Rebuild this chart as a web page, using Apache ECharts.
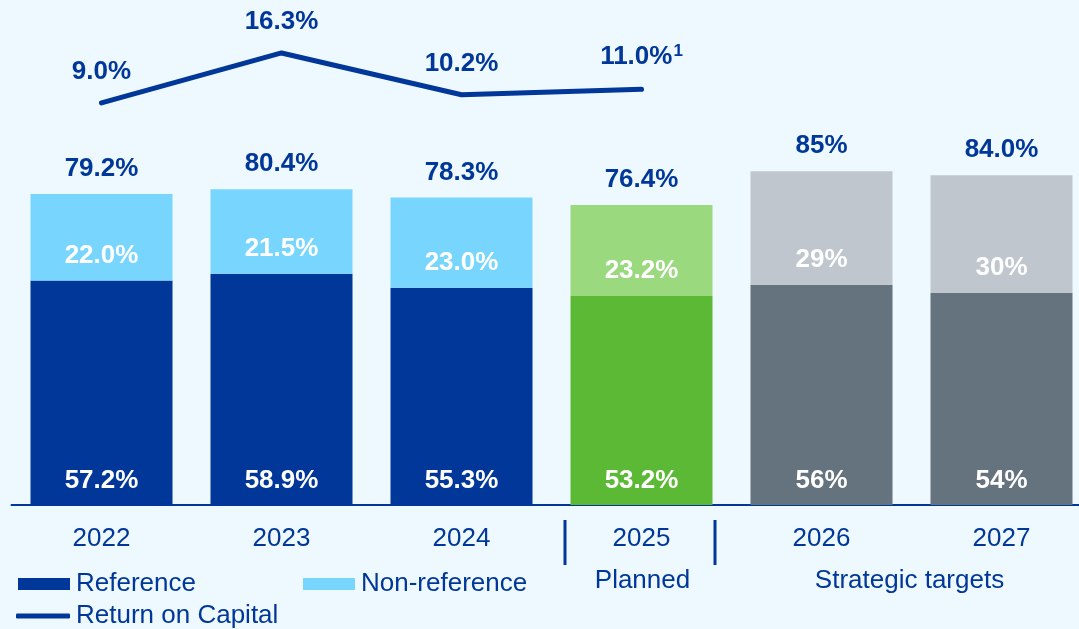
<!DOCTYPE html>
<html>
<head>
<meta charset="utf-8">
<script src="https://cdn.jsdelivr.net/npm/echarts@6/dist/echarts.min.js"></script>
<style>
  html, body { margin: 0; padding: 0; background: #edf9fe; }
  #chart { width: 1079px; height: 629px; }
</style>
</head>
<body>
<div id="chart"></div>
<script>
// Capital structure shares and return on capital by year
const years = ['2022', '2023', '2024', '2025', '2026', '2027'];
const referenceShare = [57.2, 58.9, 55.3, 53.2, 56, 54];
const nonReferenceShare = [22.0, 21.5, 23.0, 23.2, 29, 30];
const totalShare = [79.2, 80.4, 78.3, 76.4, 85, 84.0];
const totalDecimals = [1, 1, 1, 1, 0, 1];
const shareDecimals = [1, 1, 1, 1, 0, 0];
const returnOnCapital = [9.0, 16.3, 10.2, 11.0, null, null];
const footnoteIndex = 3;

const NAVY = '#003799';
const FONT = "'Liberation Sans', Arial, sans-serif";

// Year groups: actual, planned, strategic target
const refColors = ['#003799', '#003799', '#003799', '#5cb935', '#65737f', '#65737f'];
const nonRefColors = ['#78d6fe', '#78d6fe', '#78d6fe', '#9bd97f', '#bfc6cd', '#bfc6cd'];

const fmt = (v, d) => v.toFixed(d) + '%';

const chart = echarts.init(document.getElementById('chart'), null, { renderer: 'canvas' });

const gridLeft = 11.5, gridWidth = 1080;

const legendText = { color: NAVY, fontSize: 26, fontFamily: FONT, padding: [0, 0, 0, 1] };

const option = {
  backgroundColor: '#edf9fe',
  animation: false,
  textStyle: { fontFamily: FONT },
  grid: [
    { left: gridLeft, width: gridWidth, top: 112.3, bottom: 124, outerBoundsMode: 'none', containLabel: false },
    { left: gridLeft, width: gridWidth, top: 27.6, height: 137, outerBoundsMode: 'none', containLabel: false }
  ],
  xAxis: [
    {
      type: 'category', data: years, gridIndex: 0,
      axisLine: { show: true, lineStyle: { color: NAVY, width: 2 } },
      axisTick: { show: false },
      axisLabel: { color: NAVY, fontSize: 26, fontFamily: FONT, margin: 21 }
    },
    { type: 'category', data: years, gridIndex: 1, show: false }
  ],
  yAxis: [
    { type: 'value', min: 0, max: 100, gridIndex: 0, show: false },
    { type: 'value', min: 0, max: 20, gridIndex: 1, show: false }
  ],
  legend: [
    {
      data: [{ name: 'Reference', icon: 'rect' }], left: 18, top: 571, padding: 0,
      itemWidth: 52, itemHeight: 12, selectedMode: false, textStyle: legendText
    },
    {
      data: [{ name: 'Non-reference', icon: 'rect' }], left: 303, top: 571, padding: 0,
      itemWidth: 52, itemHeight: 12, selectedMode: false, textStyle: legendText
    },
    {
      data: [{ name: 'Return on Capital', icon: 'roundRect' }], left: 16, top: 603, padding: 0,
      itemWidth: 54, itemHeight: 5, selectedMode: false, textStyle: legendText
    }
  ],
  series: [
    {
      name: 'Reference', type: 'bar', stack: 'share', barWidth: 142,
      xAxisIndex: 0, yAxisIndex: 0,
      itemStyle: { color: NAVY },
      data: referenceShare.map((v, i) => ({ value: v, itemStyle: { color: refColors[i] } })),
      label: {
        show: true, position: 'insideBottom', distance: 11,
        color: '#ffffff', fontSize: 26, fontWeight: 'bold', fontFamily: FONT,
        formatter: p => fmt(p.value, shareDecimals[p.dataIndex])
      }
    },
    {
      name: 'Non-reference', type: 'bar', stack: 'share', barWidth: 142,
      xAxisIndex: 0, yAxisIndex: 0,
      itemStyle: { color: '#78d6fe' },
      data: nonReferenceShare.map((v, i) => ({ value: v, itemStyle: { color: nonRefColors[i] } })),
      label: {
        show: true, position: 'insideBottom', distance: 12,
        color: '#ffffff', fontSize: 26, fontWeight: 'bold', fontFamily: FONT,
        formatter: p => fmt(p.value, shareDecimals[p.dataIndex])
      }
    },
    {
      name: 'Total', type: 'bar', barWidth: 142, barGap: '-100%', z: 1,
      xAxisIndex: 0, yAxisIndex: 0,
      itemStyle: { color: 'rgba(0,0,0,0)' },
      silent: true,
      data: totalShare,
      label: {
        show: true, position: 'top', distance: 12,
        color: NAVY, fontSize: 26, fontWeight: 'bold', fontFamily: FONT,
        formatter: p => fmt(p.value, totalDecimals[p.dataIndex])
      }
    },
    {
      name: 'Return on Capital', type: 'line',
      xAxisIndex: 1, yAxisIndex: 1,
      data: returnOnCapital,
      showSymbol: true, symbol: 'circle', symbolSize: 4,
      itemStyle: { color: NAVY },
      lineStyle: { color: NAVY, width: 5, cap: 'round', join: 'round' },
      label: {
        show: true, position: 'top', distance: 16,
        color: NAVY, fontSize: 26, fontWeight: 'bold', fontFamily: FONT,
        formatter: p => p.dataIndex === footnoteIndex
          ? '{v|' + fmt(p.value, 1) + '}{s|1}'
          : fmt(p.value, 1),
        rich: {
          v: { color: NAVY, fontSize: 26, fontWeight: 'bold', fontFamily: FONT },
          s: { color: NAVY, fontSize: 17, fontWeight: 'bold', fontFamily: FONT, padding: [0, 0, 11, 1] }
        }
      }
    }
  ]
};

chart.setOption(option);

// Group captions and separators under the year axis, placed from the category scale
const xPlanned = chart.convertToPixel({ xAxisIndex: 0 }, '2025');
const x2026 = chart.convertToPixel({ xAxisIndex: 0 }, '2026');
const x2027 = chart.convertToPixel({ xAxisIndex: 0 }, '2027');
const sepOffset = 75;
chart.setOption({
  graphic: [
    { type: 'line', shape: { x1: xPlanned - sepOffset - 1.5, y1: 520, x2: xPlanned - sepOffset - 1.5, y2: 565 },
      style: { stroke: NAVY, lineWidth: 3 } },
    { type: 'line', shape: { x1: xPlanned + sepOffset - 1.5, y1: 520, x2: xPlanned + sepOffset - 1.5, y2: 565 },
      style: { stroke: NAVY, lineWidth: 3 } },
    { type: 'text', x: xPlanned + 1, y: 581,
      style: { text: 'Planned', fill: NAVY, font: '26px ' + FONT, align: 'center', verticalAlign: 'middle' } },
    { type: 'text', x: (x2026 + x2027) / 2 - 2, y: 581,
      style: { text: 'Strategic targets', fill: NAVY, font: '26px ' + FONT, align: 'center', verticalAlign: 'middle' } }
  ]
});
</script>
</body>
</html>
